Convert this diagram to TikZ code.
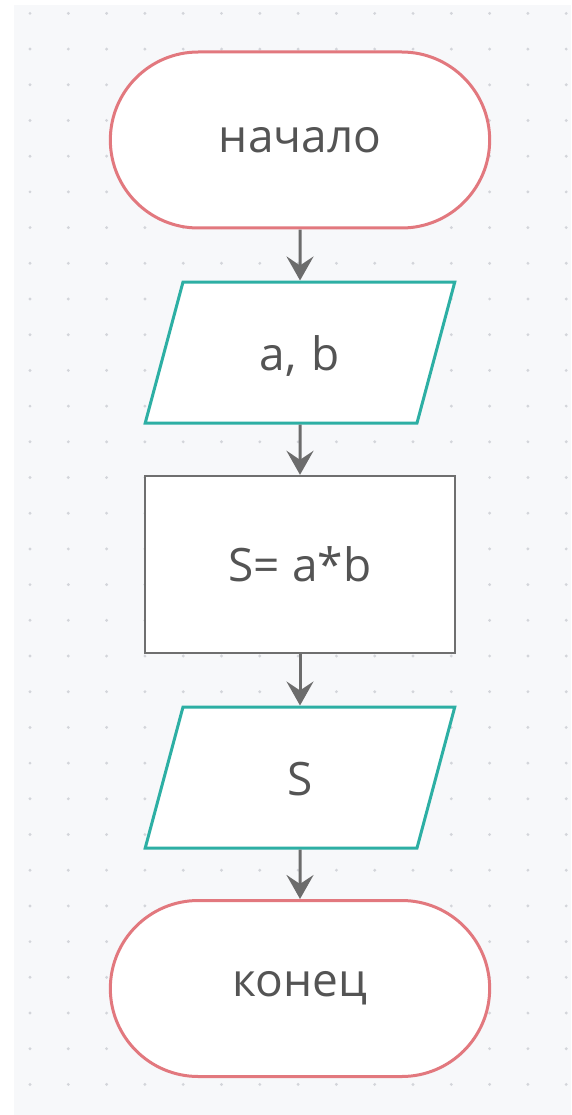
\documentclass[tikz,border=0pt]{standalone}
\usepackage{fontspec}
\setmainfont{Open Sans}
\usetikzlibrary{shapes.geometric,shapes.misc,arrows.meta}

\definecolor{bggray}{HTML}{F7F8FA}
\definecolor{dotgray}{HTML}{D3D5DA}
\definecolor{termred}{HTML}{E2787E}
\definecolor{ioteal}{HTML}{2DAFA4}
\definecolor{procgray}{HTML}{6F6F6F}
\definecolor{flowgray}{HTML}{6C6C6C}
\definecolor{textgray}{HTML}{545454}

\begin{document}
\begin{tikzpicture}[x=1pt, y=-1pt,
    every node/.style={font=\fontsize{46}{54}\selectfont, text=textgray},
    terminal/.style={rounded rectangle, draw=termred, line width=3pt, fill=white,
        minimum width=386pt, minimum height=176pt},
    iobox/.style={trapezium, trapezium left angle=75, trapezium right angle=105,
        draw=ioteal, line width=3pt, fill=white, inner sep=0pt,
        text width=234pt, align=center, text height=88pt, text depth=53pt},
    procbox/.style={rectangle, draw=procgray, line width=2.4pt, fill=white,
        minimum width=310pt, minimum height=177pt},
    flow/.style={draw=flowgray, line width=3pt,
        -{Stealth[length=24pt, width=27pt, inset=9pt]}}]
    \useasboundingbox (0,0) rectangle (571,1115);

    % Background with dot grid
    \fill[white] (0,0) rectangle (571,1115);
    \fill[bggray] (14,5) rectangle (571,1115);
    \foreach \i in {0,...,14}
        \foreach \j in {0,...,30}
            \fill[dotgray] (30+38.3*\i, 13.4+35.7*\j) circle (1.6pt);

    % Blocks
    \node[terminal] (start) at (300,140) {начало};
    \node[iobox] (input) at (300,352.5) {a, b};
    \node[procbox] (calc) at (300,564.5) {S= a*b};
    \node[iobox] (output) at (300,777.5) {S};
    \node[terminal] (stop) at (300,988.5) {конец};

    % Arrows
    \draw[flow] (start) -- (input);
    \draw[flow] (input) -- (calc);
    \draw[flow] (calc) -- (output);
    \draw[flow] (output) -- (stop);

\end{tikzpicture}
\end{document}
